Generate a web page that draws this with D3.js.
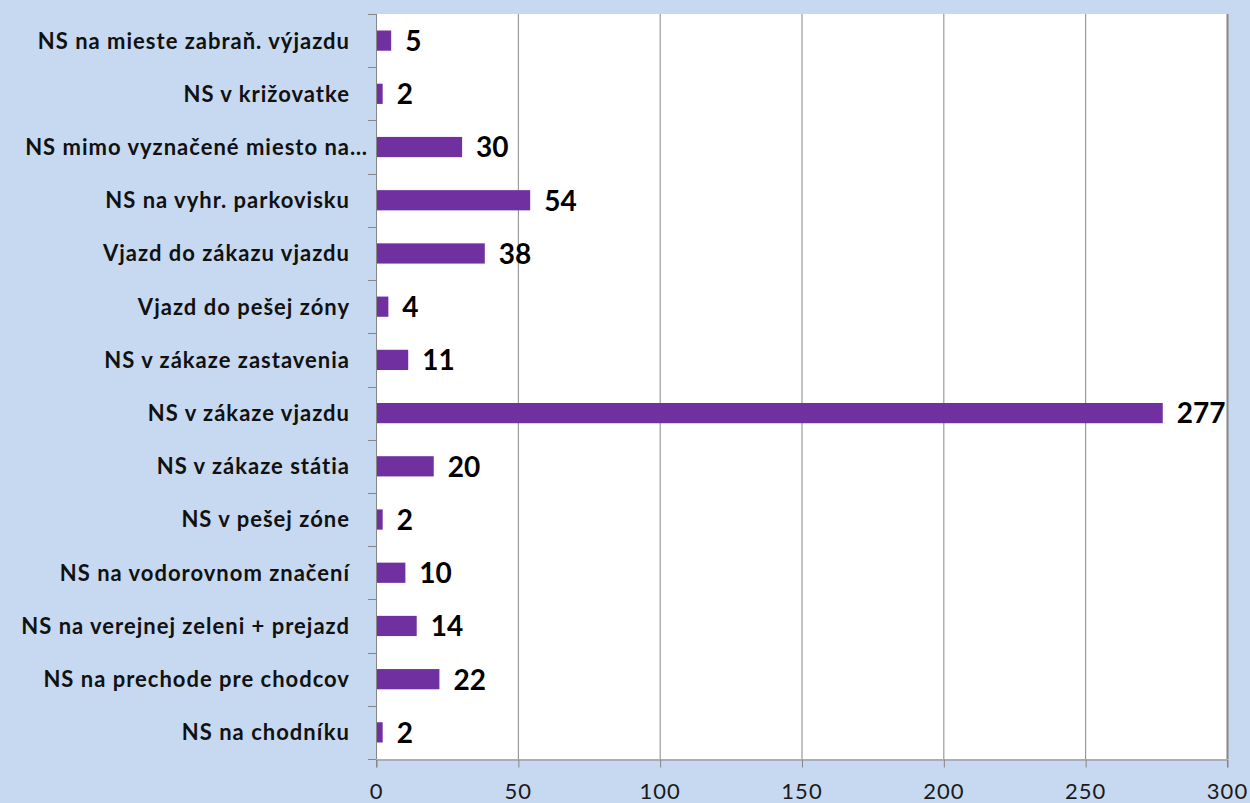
<!DOCTYPE html>
<html>
<head>
<meta charset="utf-8">
<script src="https://cdn.jsdelivr.net/npm/d3@7"></script>
<style>
  body { margin: 0; background: #c6d9f1; }
  svg { display: block; }
</style>
</head>
<body>
<div id="chart"></div>
<script>
(function () {
    var width = 1250;
    var height = 803;

    var categories = [
        "NS na mieste zabraň. výjazdu",
        "NS v križovatke",
        "NS mimo vyznačené miesto na…",
        "NS na vyhr. parkovisku",
        "Vjazd do zákazu vjazdu",
        "Vjazd do pešej zóny",
        "NS v zákaze zastavenia",
        "NS v zákaze vjazdu",
        "NS v zákaze státia",
        "NS v pešej zóne",
        "NS na vodorovnom značení",
        "NS na verejnej zeleni + prejazd",
        "NS na prechode pre chodcov",
        "NS na chodníku"
    ];
    var values = [5, 2, 30, 54, 38, 4, 11, 277, 20, 2, 10, 14, 22, 2];
    var xTicks = [0, 50, 100, 150, 200, 250, 300];

    var margin = {left: 376, right: 23, top: 14, bottom: 44};
    var font = "Lato, 'Open Sans', sans-serif";

    var svg = d3.select("#chart")
        .append("svg")
        .attr("width", width)
        .attr("height", height);

    svg.append("rect")
        .attr("width", width)
        .attr("height", height)
        .attr("fill", "#c6d9f1");

    var x = d3.scaleLinear().domain([0, 300]).range([margin.left, width - margin.right]);
    var y = d3.scaleBand().domain(categories).range([margin.top, height - margin.bottom]).paddingInner(0.62).paddingOuter(0.31);
    var yTop = margin.top, yBot = height - margin.bottom;

    // plot area
    svg.append("rect")
        .attr("x", x(0))
        .attr("y", yTop)
        .attr("width", x(300) - x(0))
        .attr("height", yBot - yTop)
        .attr("fill", "#ffffff");

    // gridlines
    svg.append("g")
        .selectAll("line")
        .data(xTicks.slice(1))
        .join("line")
        .attr("x1", d => x(d) + 0.5)
        .attr("x2", d => x(d) + 0.5)
        .attr("y1", yTop)
        .attr("y2", yBot)
        .attr("stroke", "#868686")
        .attr("stroke-width", d => d == 300 ? 2 : 1);

    // x axis
    var xAxis = d3.axisBottom(x).tickValues(xTicks).tickSize(8).tickPadding(16);
    var gx = svg.append("g")
        .attr("transform", "translate(0," + (yBot + 0.5) + ")")
        .call(xAxis);
    gx.select(".domain").attr("stroke", "#868686");
    gx.selectAll(".tick line").attr("stroke", "#868686").attr("transform", "translate(0.5,0)");
    gx.selectAll("text")
        .attr("font-family", font)
        .attr("font-size", 22)
        .attr("letter-spacing", 1)
        .attr("fill", "#1a1a1a");

    // y axis: ticks on band boundaries
    var boundaries = d3.range(categories.length + 1).map(i => yTop + i * (yBot - yTop) / categories.length);
    var gy = svg.append("g");
    gy.append("line")
        .attr("x1", x(0) + 0.5).attr("x2", x(0) + 0.5)
        .attr("y1", yTop).attr("y2", yBot)
        .attr("stroke", "#868686");
    gy.selectAll("line.tk")
        .data(boundaries)
        .join("line")
        .attr("class", "tk")
        .attr("x1", x(0) - 8).attr("x2", x(0))
        .attr("y1", d => Math.round(d) + 0.5)
        .attr("y2", d => Math.round(d) + 0.5)
        .attr("stroke", "#868686");
    gy.selectAll("text")
        .data(categories)
        .join("text")
        .attr("x", d => d.endsWith("…") ? 368 : 350)
        .attr("y", d => y(d) + y.bandwidth() / 2)
        .attr("dy", "0.36em")
        .attr("text-anchor", "end")
        .attr("font-family", font)
        .attr("font-weight", "bold")
        .attr("font-size", 22)
        .attr("letter-spacing", 1)
        .attr("fill", "#111")
        .text(d => d);

    // bars
    svg.append("g")
        .selectAll("rect")
        .data(values)
        .join("rect")
        .attr("x", x(0) + 1)
        .attr("y", (d, i) => y(categories[i]))
        .attr("width", d => x(d) - x(0))
        .attr("height", y.bandwidth())
        .attr("fill", "#7030a0");

    // value labels
    svg.append("g")
        .selectAll("text")
        .data(values)
        .join("text")
        .attr("x", d => x(d) + 15)
        .attr("y", (d, i) => y(categories[i]) + y.bandwidth() / 2)
        .attr("dy", "0.37em")
        .attr("font-family", font)
        .attr("font-weight", "bold")
        .attr("font-size", 28)
        .attr("fill", "#000")
        .text(d => d);
})();
</script>
</body>
</html>
